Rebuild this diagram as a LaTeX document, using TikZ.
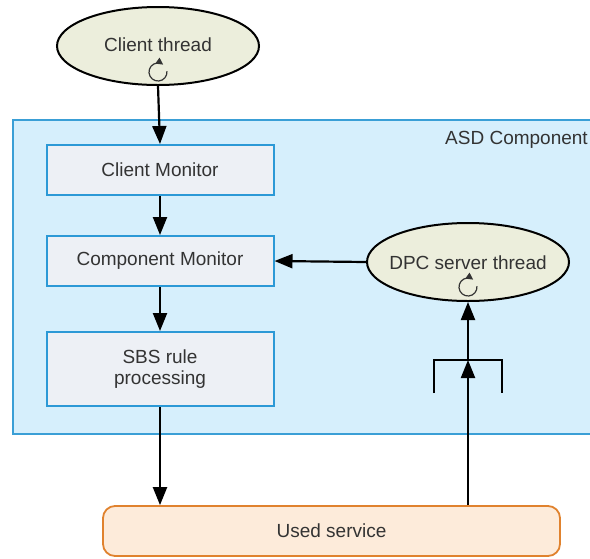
\documentclass[tikz,border=0pt]{standalone}
\usepackage{fontspec}
\setmainfont{Liberation Sans}
\usetikzlibrary{arrows.meta,shapes.geometric}

\definecolor{asdfill}{HTML}{D6EFFC}
\definecolor{asdline}{HTML}{3A9FD6}
\definecolor{boxfill}{HTML}{EDF0F5}
\definecolor{boxline}{HTML}{2C99D6}
\definecolor{threadfill}{HTML}{ECEEDC}
\definecolor{svcfill}{HTML}{FDEBDA}
\definecolor{svcline}{HTML}{E0822E}
\definecolor{txt}{HTML}{333333}

\tikzset{
  lbl/.style={text=txt, font=\fontsize{19}{21}\selectfont},
  thread/.style={ellipse, draw=black, line width=2pt, fill=threadfill,
    minimum width=202pt, minimum height=78pt, inner sep=0pt},
  monbox/.style={rectangle, draw=boxline, line width=2pt, fill=boxfill,
    minimum width=227pt, inner sep=0pt, align=center, lbl},
  flow/.style={line width=2.2pt, -{Triangle[length=18pt,width=14pt]}},
  bracket/.style={line width=2.2pt},
  loopicon/.style={line width=1.2pt, draw=txt, -{Triangle[length=7pt,width=7pt]}}
}

\begin{document}
\begin{tikzpicture}[x=1pt,y=-1pt]
\useasboundingbox (0,0) rectangle (590,558);

% component container (runs past the right edge)
\node[rectangle, draw=asdline, line width=1.8pt, fill=asdfill, inner sep=0pt,
      minimum width=600pt, minimum height=314pt, anchor=north west] (asd) at (12,119) {};
\node[lbl, anchor=east, inner sep=0pt] (asdlabel) at (588,140) {ASD Component};

% threads: outline first, name on top
\node[thread] (client) at (158,46) {};
\node[lbl] (clientname) at ([yshift=1pt]client.center) {Client thread};
\node[thread] (dpc) at (468,262) {};
\node[lbl] (dpcname) at ([yshift=-1pt]dpc.center) {DPC server thread};

% monitors and processing
\node[monbox, minimum height=50pt] (cmon) at (160,170) {Client Monitor};
\node[monbox, minimum height=50pt] (compmon) at (160,261) {Component Monitor};
\node[monbox, minimum height=74pt] (sbs) at (160,369) {SBS rule\\processing};

% used service
\node[rectangle, rounded corners=12pt, draw=svcline, line width=1.8pt, fill=svcfill,
      minimum width=457pt, minimum height=50pt, inner sep=0pt, lbl] (svc) at (331.5,531) {Used service};

% loop icons inside the threads
\coordinate (clientloop) at ([yshift=-26pt]client.center);
\coordinate (dpcloop) at ([yshift=-25pt]dpc.center);
\draw[loopicon] ([shift={(-5:9)}]clientloop) arc[start angle=-5, end angle=305, radius=9];
\draw[loopicon] ([shift={(-5:9)}]dpcloop) arc[start angle=-5, end angle=305, radius=9];

% connectors
\draw[flow] (client.south) -- (cmon.north);
\draw[flow] (cmon.south) -- (compmon.north);
\draw[flow] (compmon.south) -- (sbs.north);
\draw[flow] (sbs.south) -- (sbs.south |- svc.north);
\draw[flow] (dpc.west) -- (compmon.east);

% incoming call path from the used service
\coordinate (gate) at (468,360);
\draw[flow] (svc.north -| gate) -- (gate);
\draw[flow] (gate) -- (dpc.south);
\coordinate (gateleft) at (434,393);
\coordinate (gateright) at (502,393);
\draw[bracket] (gateleft) -- (gateleft |- gate) -- (gateright |- gate) -- (gateright);

\end{tikzpicture}
\end{document}
